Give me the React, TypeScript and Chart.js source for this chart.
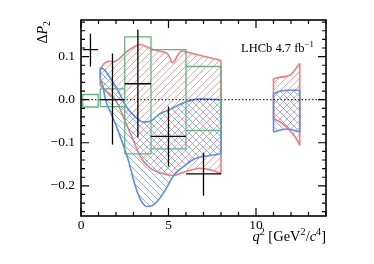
import React, { useEffect, useRef } from 'react';
import { Chart, registerables } from 'chart.js';

Chart.register(...registerables);

// ---- measured data (LHCb ΔP2 vs q²) ----
const binLo = [0.1, 1.1, 2.5, 4.0, 6.0];
const binHi = [0.98, 2.5, 4.0, 6.0, 8.0];
const dataP2 = [0.116, 0.0, 0.037, -0.085, -0.172];
const dataP2Lo = [0.077, -0.104, -0.088, -0.155, -0.223];
const dataP2Hi = [0.153, 0.107, 0.163, -0.016, -0.123];

const smP2Lo = [-0.017, -0.016, -0.126, -0.114, -0.071];
const smP2Hi = [0.012, 0.025, 0.146, 0.116, 0.077];

// red band, low-q² region
const redUpQ2A = [1.1, 1.3, 1.6, 1.9, 2.2, 2.6, 3.0, 3.4, 3.8, 4.3, 4.9, 5.05, 5.2, 5.35, 5.55, 5.75, 6.0, 7.0, 8.0];
const redUpA = [0.07, 0.083, 0.089, 0.088, 0.096, 0.111, 0.122, 0.128, 0.122, 0.114, 0.108, 0.1, 0.086, 0.09, 0.105, 0.113, 0.111, 0.101, 0.091];
const redLoQ2A = [1.1, 1.5, 2.0, 2.5, 3.0, 3.4, 3.9, 4.7, 5.3, 5.9, 6.8, 7.5, 8.0];
const redLoA = [0.033, 0.018, -0.002, -0.048, -0.095, -0.133, -0.157, -0.172, -0.176, -0.168, -0.159, -0.164, -0.172];
// blue band, low-q² region
const blueUpQ2A = [1.1, 1.3, 1.6, 2.1, 2.6, 3.1, 3.55, 3.95, 4.5, 5.1, 6.0, 6.8, 8.0];
const blueUpA = [0.074, 0.071, 0.055, 0.022, -0.017, -0.04, -0.052, -0.05, -0.033, -0.022, -0.005, 0.002, 0.0];
const blueLoQ2A = [1.1, 1.25, 1.4, 1.7, 2.1, 2.7, 3.1, 3.4, 3.75, 4.1, 4.4, 4.8, 5.37, 5.94, 6.5, 7.27, 8.0];
const blueLoA = [0.05, 0.03, 0.0, -0.03, -0.07, -0.14, -0.2, -0.232, -0.248, -0.245, -0.234, -0.211, -0.172, -0.153, -0.137, -0.13, -0.126];
// high-q² region
const redUpQ2B = [11.0, 11.5, 11.95, 12.5];
const redUpB = [0.049, 0.053, 0.057, 0.084];
const redLoQ2B = [11.0, 11.5, 12.0, 12.3, 12.5];
const redLoB = [-0.044, -0.055, -0.075, -0.09, -0.106];
const blueUpQ2B = [11.0, 11.4, 11.8, 12.5];
const blueUpB = [0.014, 0.02, 0.022, 0.022];
const blueLoQ2B = [11.0, 11.75, 12.5];
const blueLoB = [-0.075, -0.068, -0.075];

const xTickVals = [0, 5, 10];
const xTickLabels = ['0', '5', '10'];
const yTickVals = [-0.2, -0.1, 0.0, 0.1];
const yTickLabels = ['\u22120.2', '\u22120.1', '0.0', '0.1'];

const RED = '#ef7b7b';
const BLUE = '#5b8ee8';
const GREEN = '#62b282';
const SERIF = '"Liberation Serif", "Times New Roman", serif';

type Seg = { t: string; it?: boolean; sup?: boolean; sub?: boolean };

function drawRich(ctx: CanvasRenderingContext2D, segs: Seg[], x: number, y: number, size: number, align: 'left' | 'right') {
  const fontOf = (s: Seg) => `${s.it ? 'italic ' : ''}${s.sup || s.sub ? size * 0.7 : size}px ${SERIF}`;
  let total = 0;
  for (const s of segs) {
    ctx.font = fontOf(s);
    total += ctx.measureText(s.t).width;
  }
  let cx = align === 'right' ? x - total : x;
  ctx.textAlign = 'left';
  ctx.textBaseline = 'alphabetic';
  for (const s of segs) {
    ctx.font = fontOf(s);
    const dy = s.sup ? -size * 0.38 : s.sub ? size * 0.22 : 0;
    ctx.fillText(s.t, cx, y + dy);
    cx += ctx.measureText(s.t).width;
  }
}

const pts = (xs: number[], ys: number[]) => xs.map((x, i) => ({ x, y: ys[i] }));

function makeHatch(ctx: CanvasRenderingContext2D, color: string, slash: boolean) {
  const s = 7;
  const c = document.createElement('canvas');
  c.width = s;
  c.height = s;
  const g = c.getContext('2d')!;
  g.strokeStyle = color;
  g.lineWidth = 1;
  g.beginPath();
  if (slash) {
    g.moveTo(-1, s + 1); g.lineTo(s + 1, -1);
    g.moveTo(-2, 2); g.lineTo(2, -2);
    g.moveTo(s - 2, s + 2); g.lineTo(s + 2, s - 2);
  } else {
    g.moveTo(-1, -1); g.lineTo(s + 1, s + 1);
    g.moveTo(-2, s - 2); g.lineTo(2, s + 2);
    g.moveTo(s - 2, -2); g.lineTo(s + 2, 2);
  }
  g.stroke();
  return ctx.createPattern(c, 'repeat')!;
}

const framePlugin = {
  id: 'frameTicks',
  afterDraw(chart: any) {
    const { ctx, chartArea: a, scales } = chart;
    const xs = scales.x;
    const ys = scales.y;
    ctx.save();
    ctx.strokeStyle = '#000';
    ctx.lineWidth = 1.2;
    ctx.beginPath();
    for (let k = 0; k <= 14; k++) {
      const len = k % 5 === 0 ? 8 : 4;
      const px = xs.getPixelForValue(k);
      ctx.moveTo(px, a.bottom); ctx.lineTo(px, a.bottom - len);
      ctx.moveTo(px, a.top); ctx.lineTo(px, a.top + len);
    }
    for (let k = -13; k <= 9; k++) {
      const len = k % 5 === 0 ? 8 : 4;
      const py = ys.getPixelForValue(k * 0.02);
      ctx.moveTo(a.left, py); ctx.lineTo(a.left + len, py);
      ctx.moveTo(a.right, py); ctx.lineTo(a.right - len, py);
    }
    ctx.stroke();
    ctx.lineWidth = 1.6;
    ctx.strokeRect(a.left, a.top, a.right - a.left, a.bottom - a.top);

    ctx.fillStyle = '#000';
    // x title
    drawRich(ctx, [
      { t: 'q', it: true }, { t: '2', sup: true }, { t: ' [GeV' }, { t: '2', sup: true },
      { t: '/' }, { t: 'c', it: true }, { t: '4', sup: true }, { t: ']' },
    ], a.right, 241, 14.5, 'right');
    // LHCb label
    drawRich(ctx, [{ t: 'LHCb 4.7 fb' }, { t: '\u22121', sup: true }], 241, 52, 12.5, 'left');
    // y title (rotated)
    ctx.save();
    ctx.translate(47, 21);
    ctx.rotate(-Math.PI / 2);
    drawRich(ctx, [{ t: '\u0394' }, { t: 'P', it: true }, { t: '2', sub: true }], 0, 0, 14, 'right');
    ctx.restore();
    ctx.restore();
  },
};

export default function App() {
  const ref = useRef<HTMLCanvasElement | null>(null);

  useEffect(() => {
    const canvas = ref.current!;
    const ctx = canvas.getContext('2d')!;
    const redHatch = makeHatch(ctx, 'rgba(239,123,123,0.7)', true);
    const blueHatch = makeHatch(ctx, 'rgba(91,142,232,0.7)', false);

    const errPts: any[] = [];
    binLo.forEach((lo, i) => {
      const c = (lo + binHi[i]) / 2;
      errPts.push({ x: lo, y: dataP2[i] }, { x: binHi[i], y: dataP2[i] }, { x: binHi[i], y: null });
      errPts.push({ x: c, y: dataP2Lo[i] }, { x: c, y: dataP2Hi[i] }, { x: c, y: null });
    });
    const boxPts: any[] = [];
    binLo.forEach((lo, i) => {
      const hi = binHi[i];
      boxPts.push(
        { x: lo, y: smP2Lo[i] }, { x: hi, y: smP2Lo[i] }, { x: hi, y: smP2Hi[i] },
        { x: lo, y: smP2Hi[i] }, { x: lo, y: smP2Lo[i] }, { x: lo, y: null },
      );
    });
    const edges = (ups: [number[], number[]][], los: [number[], number[]][]) => {
      const out: any[] = [];
      ups.forEach(([ux, uy], j) => {
        const [lx, ly] = los[j];
        out.push({ x: ux[0], y: uy[0] }, { x: lx[0], y: ly[0] }, { x: lx[0], y: null });
        const n = ux.length - 1;
        const m = lx.length - 1;
        out.push({ x: ux[n], y: uy[n] }, { x: lx[m], y: ly[m] }, { x: lx[m], y: null });
      });
      return out;
    };
    const blueEdges = edges([[blueUpQ2A, blueUpA], [blueUpQ2B, blueUpB]], [[blueLoQ2A, blueLoA], [blueLoQ2B, blueLoB]]);
    const redEdges = edges([[redUpQ2A, redUpA], [redUpQ2B, redUpB]], [[redLoQ2A, redLoA], [redLoQ2B, redLoB]]);

    const curve = (data: any[], color: string, fill: any, bg: any) => ({
      data, borderColor: color, borderWidth: 1.6, fill, backgroundColor: bg,
      cubicInterpolationMode: 'monotone', tension: 0.4, pointRadius: 0,
    });
    const straight = (data: any[], color: string, width: number, dash?: number[]) => ({
      data, borderColor: color, borderWidth: width, borderDash: dash || [], fill: false,
      tension: 0, pointRadius: 0, spanGaps: false,
    });

    const chart = new Chart(canvas, {
      type: 'line',
      data: {
        datasets: [
          straight(errPts, '#000', 1.3),
          straight(boxPts, GREEN, 1.3),
          straight([{ x: 0, y: 0 }, { x: 14, y: 0 }], '#000', 1, [1.5, 2]),
          straight(blueEdges, BLUE, 1.6),
          curve(pts(blueUpQ2A, blueUpA), BLUE, 5, blueHatch),
          curve(pts(blueLoQ2A, blueLoA), BLUE, false, 'transparent'),
          curve(pts(blueUpQ2B, blueUpB), BLUE, 7, blueHatch),
          curve(pts(blueLoQ2B, blueLoB), BLUE, false, 'transparent'),
          straight(redEdges, RED, 1.6),
          curve(pts(redUpQ2A, redUpA), RED, 10, redHatch),
          curve(pts(redLoQ2A, redLoA), RED, false, 'transparent'),
          curve(pts(redUpQ2B, redUpB), RED, 12, redHatch),
          curve(pts(redLoQ2B, redLoB), RED, false, 'transparent'),
        ] as any,
      },
      options: {
        animation: false,
        responsive: false,
        devicePixelRatio: 1,
        layout: { padding: { top: 20, right: 48, left: 0, bottom: 0 } },
        plugins: { legend: { display: false }, tooltip: { enabled: false }, filler: { propagate: false } } as any,
        scales: {
          x: {
            type: 'linear', min: 0, max: 14,
            grid: { display: false, drawTicks: false },
            border: { display: false },
            ticks: {
              padding: 1, color: '#000', maxRotation: 0, autoSkip: false,
              font: { family: SERIF, size: 13.5 },
              callback: (_v: any, i: number) => xTickLabels[i],
            },
            afterBuildTicks: (s: any) => { s.ticks = xTickVals.map((v) => ({ value: v })); },
            afterFit: (s: any) => { s.height = 48; },
          },
          y: {
            type: 'linear', min: -0.27, max: 0.185,
            grid: { display: false, drawTicks: false },
            border: { display: false },
            ticks: {
              padding: 6, color: '#000', autoSkip: false,
              font: { family: SERIF, size: 13.5 },
              callback: (_v: any, i: number) => yTickLabels[i],
            },
            afterBuildTicks: (s: any) => { s.ticks = yTickVals.map((v) => ({ value: v })); },
            afterFit: (s: any) => { s.width = 81; },
          },
        } as any,
      },
      plugins: [framePlugin],
    });
    return () => chart.destroy();
  }, []);

  return (
    <div style={{ position: 'fixed', left: 0, top: 0, width: 374, height: 264, background: '#fff' }}>
      <canvas ref={ref} width={374} height={264} style={{ width: 374, height: 264, display: 'block' }} />
    </div>
  );
}
